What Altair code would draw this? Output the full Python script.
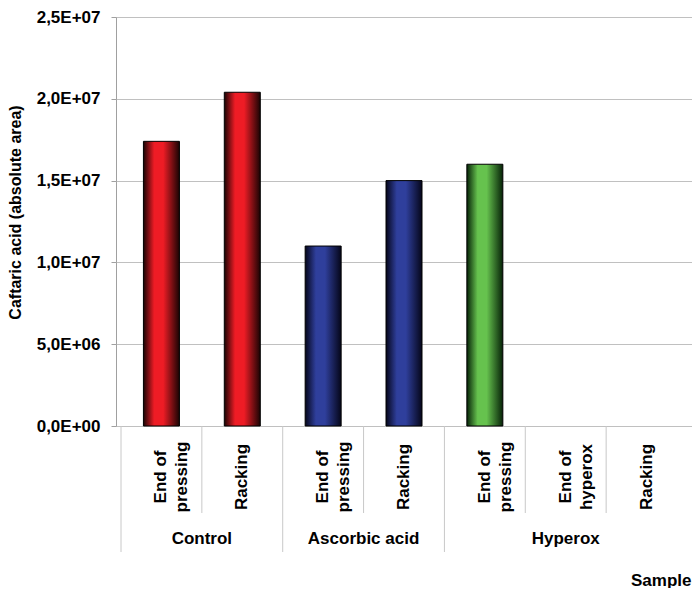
import altair as alt
import pandas as pd

# ---- data ----
groups = ["Control", "Control", "Ascorbic acid", "Ascorbic acid", "Hyperox", "Hyperox", "Hyperox"]
stages = ["End of\npressing", "Racking", "End of\npressing", "Racking",
          "End of\npressing", "End of\nhyperox", "Racking"]
values = [1.74e7, 2.04e7, 1.10e7, 1.50e7, 1.60e7, None, None]
group_names = ["Control", "Ascorbic acid", "Hyperox"]
y_ticks = [0, 5e6, 1e7, 1.5e7, 2e7, 2.5e7]

idx = list(range(len(stages)))
df = pd.DataFrame({"idx": idx, "group": groups, "stage": stages, "value": values})
bars_df = df.dropna(subset=["value"])

div_rows = []
for i in idx:
    start = i == 0 or groups[i] != groups[i - 1]
    div_rows.append({"pos": i - 0.5, "kind": "long" if start else "short"})
div_df = pd.DataFrame(div_rows)

grp_df = pd.DataFrame({
    "group": group_names,
    "mid": [sum(i for i in idx if groups[i] == g) / groups.count(g) for g in group_names],
})

FONT = "Liberation Sans"
W, H = 576, 409

xscale = alt.Scale(domain=[-0.5, len(stages) - 0.5], nice=False, zero=False)
xaxis = alt.Axis(labels=False, ticks=False, domain=False, grid=False, title="Sample",
                 titleX=W - 1, titleY=159, titleAlign="right", titleBaseline="alphabetic",
                 titleFont=FONT, titleFontSize=17, titleFontWeight="bold", titleColor="black")
yaxis = alt.Axis(values=y_ticks,
                 labelExpr="replace(replace(format(datum.value, '.1e'), '.', ','), 'e+', 'E+0')",
                 title="Caftaric acid (absolute area)", grid=True, gridColor="#c0c0c0",
                 domain=False, tickColor="#a0a0a0", tickSize=5, labelPadding=11,
                 labelFont=FONT, labelFontSize=17, labelFontWeight="bold", labelColor="black",
                 titleFont=FONT, titleFontSize=16, titleFontWeight="bold", titleColor="black",
                 titleX=-101, titleY=195, titleAngle=270, titleAlign="center",
                 titleBaseline="middle")
yscale = alt.Scale(domain=[0, 2.5e7], nice=False)


def grad(dark, bright):
    return alt.Gradient(
        gradient="linear", x1=0, x2=1, y1=0, y2=0,
        stops=[alt.GradientStop(offset=0, color=dark),
               alt.GradientStop(offset=0.3, color=bright),
               alt.GradientStop(offset=0.55, color=bright),
               alt.GradientStop(offset=1, color=dark)])


palette = {
    "Control": grad("#1a0404", "#ee1c25"),
    "Ascorbic acid": grad("#05061a", "#2f3f9c"),
    "Hyperox": grad("#062208", "#66c24e"),
}

base = alt.Chart(bars_df)
layers = []
for g in group_names:
    layers.append(
        base.transform_filter(alt.datum.group == g)
        .mark_bar(fill=palette[g], stroke="black", strokeWidth=1, width=36)
        .encode(x=alt.X("idx:Q", scale=xscale, axis=xaxis),
                y=alt.Y("value:Q", scale=yscale, axis=yaxis))
    )

short_rules = alt.Chart(div_df).transform_filter(alt.datum.kind == "short").mark_rule(
    color="#c8c8c8", strokeWidth=1, clip=False).encode(
    x=alt.X("pos:Q", scale=xscale, axis=xaxis),
    y=alt.value(H), y2=alt.value(H + 87))
long_rules = alt.Chart(div_df).transform_filter(alt.datum.kind == "long").mark_rule(
    color="#c8c8c8", strokeWidth=1, clip=False).encode(
    x=alt.X("pos:Q", scale=xscale, axis=xaxis),
    y=alt.value(H), y2=alt.value(H + 126))

stage_text = alt.Chart(df).mark_text(
    angle=270, align="center", baseline="middle", lineBreak="\n", lineHeight=21,
    font=FONT, fontSize=17, fontWeight="bold", color="black", clip=False).encode(
    x=alt.X("idx:Q", scale=xscale, axis=xaxis),
    y=alt.value(460), text="stage:N")

group_text = alt.Chart(grp_df).mark_text(
    align="center", baseline="middle", font=FONT, fontSize=17, fontWeight="bold",
    color="black", clip=False).encode(
    x=alt.X("mid:Q", scale=xscale, axis=xaxis),
    y=alt.value(522), text="group:N")

chart = alt.layer(*layers, short_rules, long_rules, stage_text, group_text).properties(
    width=W, height=H,
    autosize=alt.AutoSizeParams(type="none"),
    padding={"left": 108, "top": 9, "right": 0, "bottom": 162},
).configure_view(stroke="#a0a0a0", strokeWidth=1)

chart.save("out.html", embed_options={"renderer": "svg", "actions": False})
